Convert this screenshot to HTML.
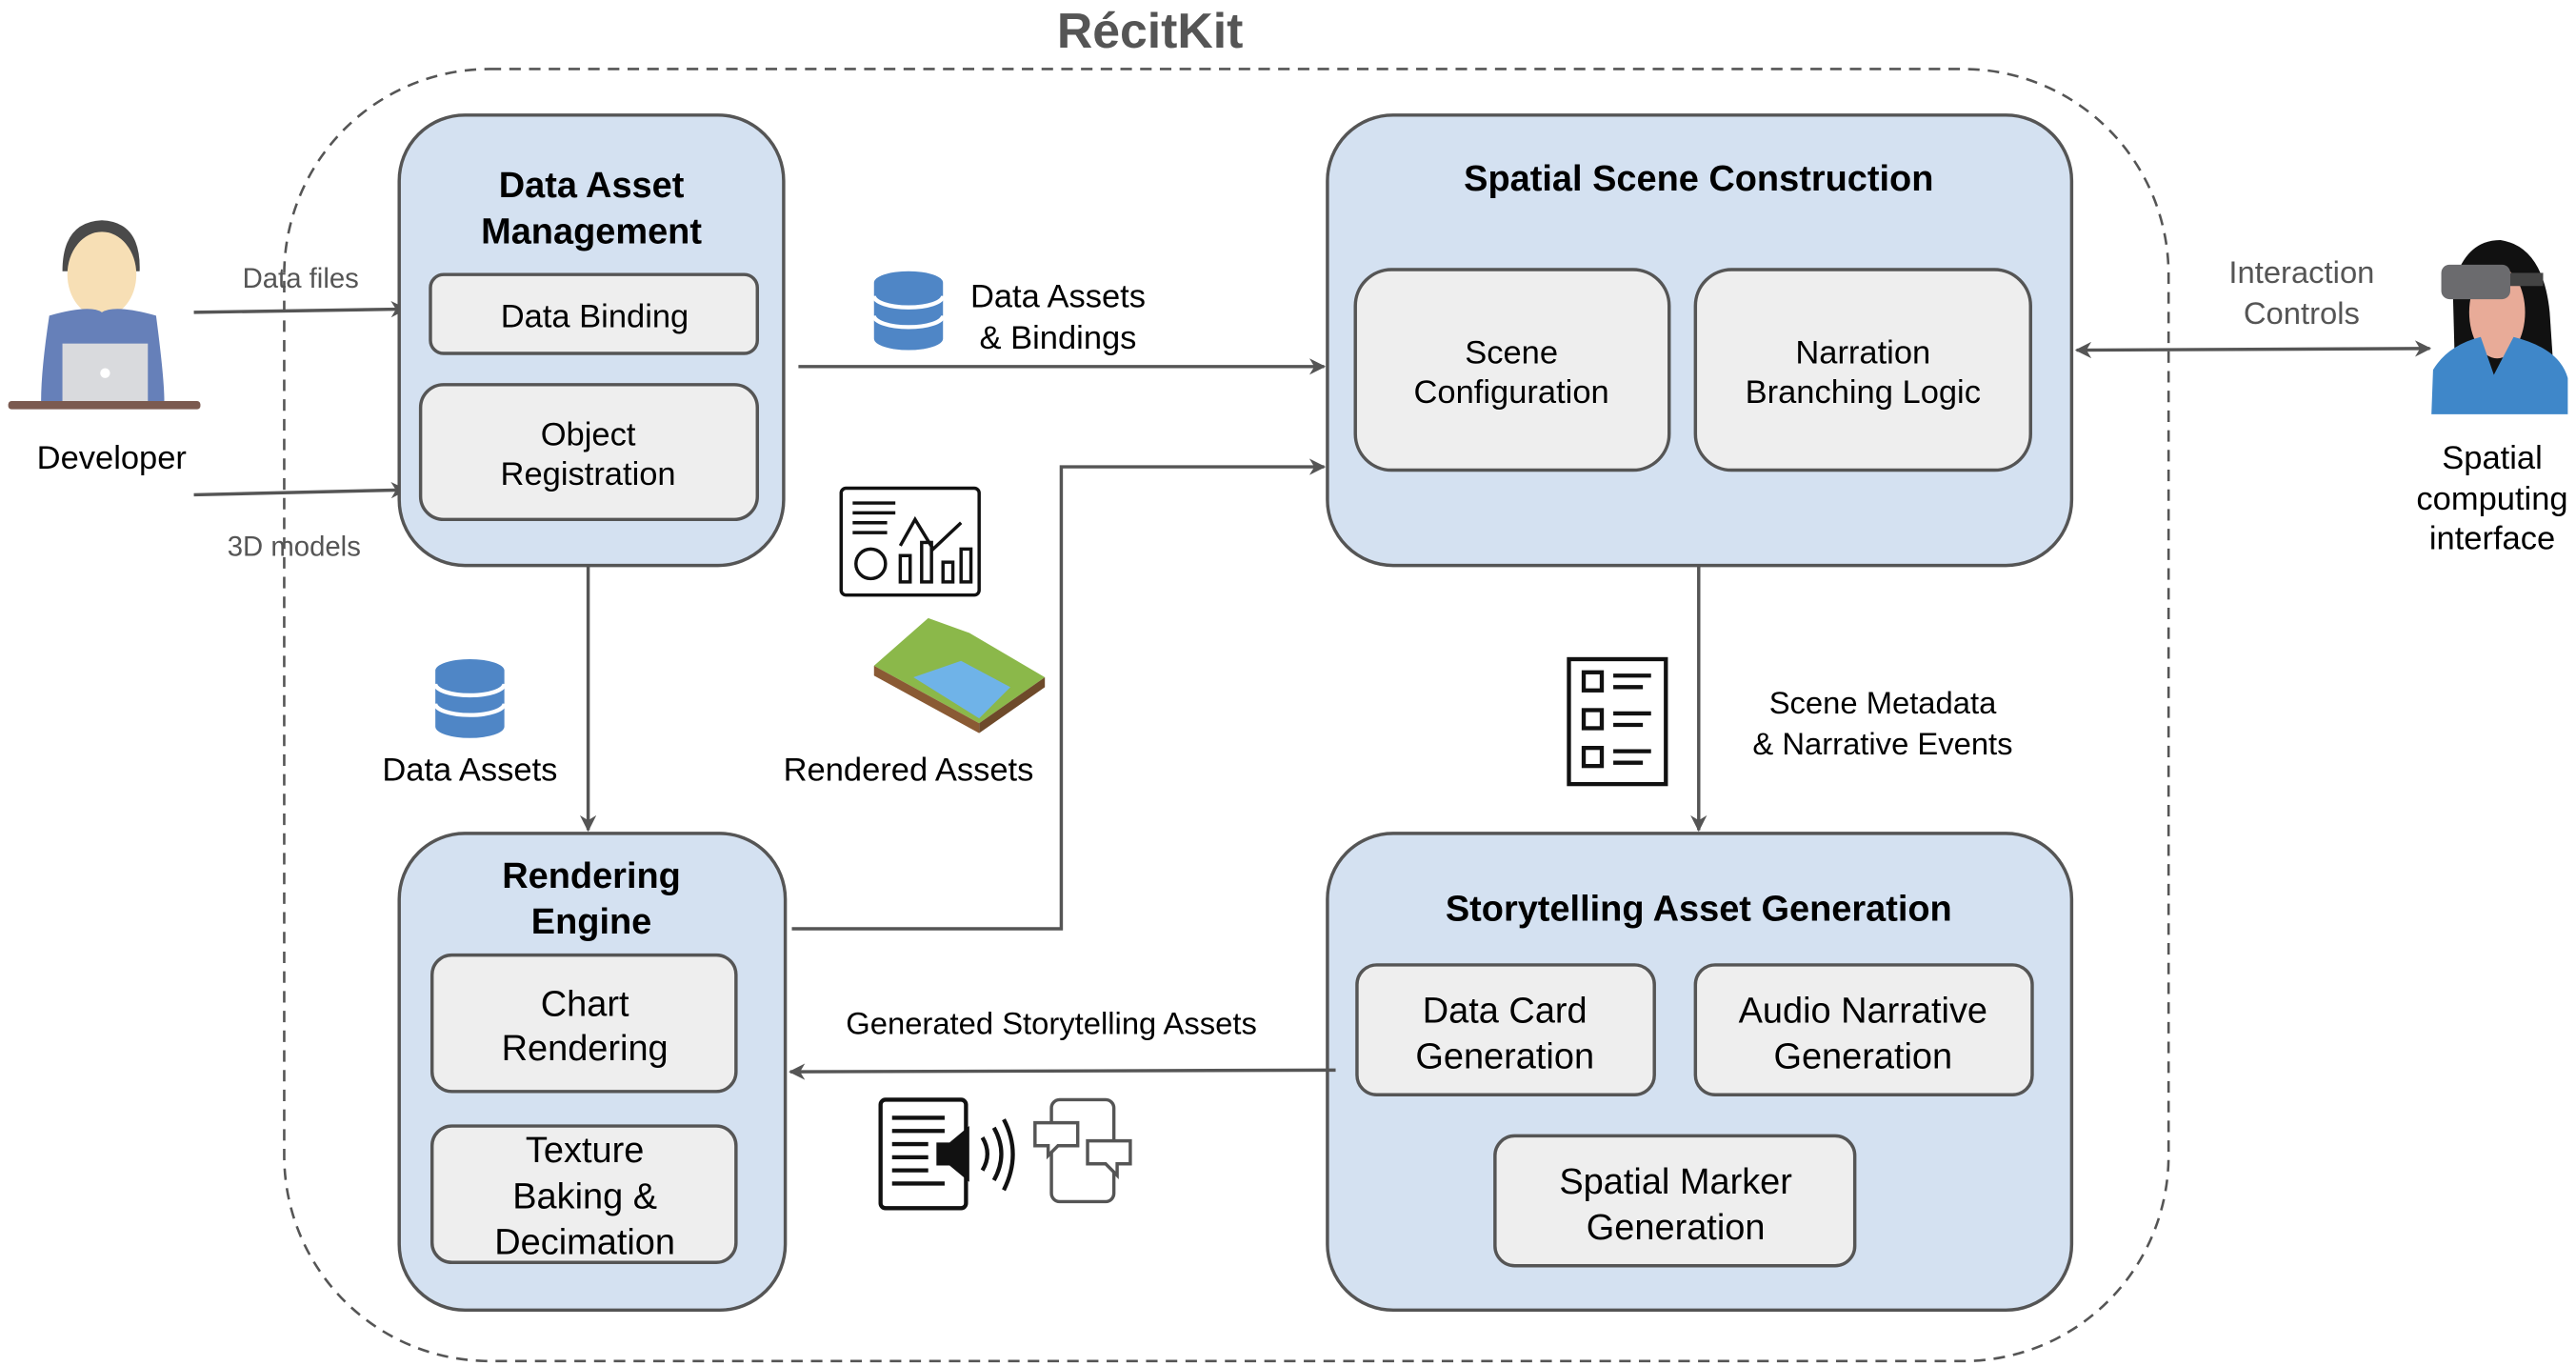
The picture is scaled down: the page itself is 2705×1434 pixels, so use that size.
<!DOCTYPE html>
<html><head><meta charset="utf-8"><style>
html,body{margin:0;padding:0;background:#fff;}
svg{display:block;}
text{font-family:"Liberation Sans",sans-serif;}
</style></head><body>
<svg width="2705" height="1434" viewBox="0 0 1568 831" preserveAspectRatio="none" xmlns="http://www.w3.org/2000/svg">
<defs>
<marker id="ah" markerWidth="10" markerHeight="10" refX="9" refY="5" orient="auto" markerUnits="userSpaceOnUse"><path d="M0,0 L10,5 L0,10 L3,5 Z" fill="#555"/></marker>
<marker id="ahs" markerWidth="10" markerHeight="10" refX="1" refY="5" orient="auto" markerUnits="userSpaceOnUse"><path d="M10,0 L0,5 L10,10 L7,5 Z" fill="#555"/></marker>
</defs>
<text x="700" y="29" font-size="30" font-weight="bold" fill="#555" text-anchor="middle">RécitKit</text>
<rect x="173" y="42" width="1147" height="786" rx="125" fill="none" stroke="#555" stroke-width="1.5" stroke-dasharray="7,5"/>

<!-- Developer -->
<g>
<path d="M38,165 Q38,135 62,134 Q86,135 85,165 Z" fill="#4a4a4a"/>
<ellipse cx="62" cy="167" rx="21" ry="26" fill="#f7dfb5"/>
<path d="M30,192 Q55,185 62,190 Q70,185 95,192 Q100,230 100,244 L25,244 Q25,225 30,192 Z" fill="#6680b9"/>
<rect x="38" y="209" width="52" height="36" fill="#d9dadd"/>
<circle cx="64" cy="227" r="3" fill="#fff"/>
<rect x="5" y="244" width="117" height="5" rx="2" fill="#7b5a50"/>
</g>
<text x="68" y="285" font-size="20" text-anchor="middle">Developer</text>
<line x1="118" y1="190" x2="247" y2="188" stroke="#555" stroke-width="2" marker-end="url(#ah)"/>
<line x1="118" y1="301" x2="247" y2="298" stroke="#555" stroke-width="2" marker-end="url(#ah)"/>
<text x="183" y="175" font-size="17" fill="#555" text-anchor="middle">Data files</text>
<text x="179" y="338" font-size="17" fill="#555" text-anchor="middle">3D models</text>

<!-- DAM -->
<rect x="243" y="70" width="234" height="274" rx="40" fill="#d4e1f1" stroke="#555" stroke-width="2"/>
<text x="360" y="120" font-size="22" font-weight="bold" text-anchor="middle">Data Asset</text>
<text x="360" y="148" font-size="22" font-weight="bold" text-anchor="middle">Management</text>
<rect x="262" y="167" width="199" height="48" rx="8" fill="#eee" stroke="#555" stroke-width="2"/>
<text x="362" y="199" font-size="20" text-anchor="middle">Data Binding</text>
<rect x="256" y="234" width="205" height="82" rx="14" fill="#eee" stroke="#555" stroke-width="2"/>
<text x="358" y="271" font-size="20" text-anchor="middle">Object</text>
<text x="358" y="295" font-size="20" text-anchor="middle">Registration</text>

<!-- DB icon helper -->
<g fill="#4f86c6">
<path d="M532,172 a21,7 0 0 1 42,0 v34 a21,7 0 0 1 -42,0 Z"/>
</g>
<g stroke="#fff" stroke-width="2.5" fill="none"><path d="M532,180 a21,7 0 0 0 42,0"/><path d="M532,192 a21,7 0 0 0 42,0"/></g>
<line x1="486" y1="223" x2="806" y2="223" stroke="#555" stroke-width="2" marker-end="url(#ah)"/>
<text x="644" y="187" font-size="20" text-anchor="middle">Data Assets</text>
<text x="644" y="212" font-size="20" text-anchor="middle">&amp; Bindings</text>

<!-- SSC -->
<rect x="808" y="70" width="453" height="274" rx="40" fill="#d4e1f1" stroke="#555" stroke-width="2"/>
<text x="1034" y="116" font-size="22" font-weight="bold" text-anchor="middle">Spatial Scene Construction</text>
<rect x="825" y="164" width="191" height="122" rx="22" fill="#eee" stroke="#555" stroke-width="2"/>
<text x="920" y="221" font-size="20" text-anchor="middle">Scene</text>
<text x="920" y="245" font-size="20" text-anchor="middle">Configuration</text>
<rect x="1032" y="164" width="204" height="122" rx="22" fill="#eee" stroke="#555" stroke-width="2"/>
<text x="1134" y="221" font-size="20" text-anchor="middle">Narration</text>
<text x="1134" y="245" font-size="20" text-anchor="middle">Branching Logic</text>

<line x1="1264" y1="213" x2="1479" y2="212" stroke="#555" stroke-width="2" marker-start="url(#ahs)" marker-end="url(#ah)"/>
<text x="1401" y="172" font-size="19" fill="#555" text-anchor="middle">Interaction</text>
<text x="1401" y="197" font-size="19" fill="#555" text-anchor="middle">Controls</text>
<!-- VR person -->
<g>
<path d="M1495,250 L1493,175 Q1500,146 1522,146 Q1548,150 1552,190 L1556,250 Z" fill="#111"/>
<ellipse cx="1520" cy="190" rx="17" ry="28" fill="#e8ab98"/>
<path d="M1480,252 L1481,225 Q1490,210 1510,205 L1518,228 L1530,205 Q1558,212 1563,230 L1563,252 Z" fill="#3f87c9"/>
<rect x="1486" y="161" width="42" height="21" rx="5" fill="#6b6b6e"/>
<rect x="1528" y="166" width="20" height="8" fill="#444"/>
</g>
<text x="1517" y="285" font-size="20" text-anchor="middle">Spatial</text>
<text x="1517" y="310" font-size="20" text-anchor="middle">computing</text>
<text x="1517" y="334" font-size="20" text-anchor="middle">interface</text>

<!-- down arrows -->
<line x1="358" y1="344" x2="358" y2="505" stroke="#555" stroke-width="2" marker-end="url(#ah)"/>
<path d="M265,408 a21,7 0 0 1 42,0 v34 a21,7 0 0 1 -42,0 Z" fill="#4f86c6"/>
<g stroke="#fff" stroke-width="2.5" fill="none"><path d="M265,416 a21,7 0 0 0 42,0"/><path d="M265,428 a21,7 0 0 0 42,0"/></g>
<text x="286" y="475" font-size="20" text-anchor="middle">Data Assets</text>

<polyline points="482,565 646,565 646,284 806,284" fill="none" stroke="#555" stroke-width="2" marker-end="url(#ah)"/>
<!-- chart icon -->
<g fill="none" stroke="#111" stroke-width="2">
<rect x="512" y="297" width="84" height="65" rx="3"/>
<line x1="519" y1="306" x2="545" y2="306"/><line x1="519" y1="312" x2="545" y2="312"/><line x1="519" y1="318" x2="540" y2="318"/><line x1="519" y1="324" x2="540" y2="324"/>
<circle cx="530" cy="343" r="9"/>
<rect x="548" y="338" width="6" height="16"/><rect x="561" y="330" width="6" height="24"/><rect x="574" y="342" width="6" height="12"/><rect x="585" y="334" width="6" height="20"/>
<polyline points="548,332 557,316 568,334 585,318"/>
</g>
<!-- terrain -->
<path d="M532,405 L565,376 L590,385 L636,412 L596,440 Z" fill="#8bb84a"/>
<path d="M556,412 L585,402 L615,418 L596,437 Z" fill="#6fb3e8"/>
<path d="M532,405 L596,440 L596,446 L532,411 Z" fill="#8a5a34"/>
<path d="M596,440 L636,412 L636,418 L596,446 Z" fill="#6e4a2a"/>
<text x="553" y="475" font-size="20" text-anchor="middle">Rendered Assets</text>

<line x1="1034" y1="344" x2="1034" y2="505" stroke="#555" stroke-width="2" marker-end="url(#ah)"/>
<g fill="none" stroke="#111" stroke-width="2.5">
<rect x="955" y="401" width="59" height="76"/>
<rect x="964" y="409" width="11" height="11"/><rect x="964" y="432" width="11" height="11"/><rect x="964" y="455" width="11" height="11"/>
<line x1="982" y1="411" x2="1005" y2="411"/><line x1="982" y1="418" x2="1000" y2="418"/>
<line x1="982" y1="434" x2="1005" y2="434"/><line x1="982" y1="441" x2="1000" y2="441"/>
<line x1="982" y1="457" x2="1005" y2="457"/><line x1="982" y1="464" x2="1000" y2="464"/>
</g>
<text x="1146" y="434" font-size="19" text-anchor="middle">Scene Metadata</text>
<text x="1146" y="459" font-size="19" text-anchor="middle">&amp; Narrative Events</text>

<!-- Rendering Engine -->
<rect x="243" y="507" width="235" height="290" rx="40" fill="#d4e1f1" stroke="#555" stroke-width="2"/>
<text x="360" y="540" font-size="22" font-weight="bold" text-anchor="middle">Rendering</text>
<text x="360" y="568" font-size="22" font-weight="bold" text-anchor="middle">Engine</text>
<rect x="263" y="581" width="185" height="83" rx="12" fill="#eee" stroke="#555" stroke-width="2"/>
<text x="356" y="618" font-size="22" text-anchor="middle">Chart</text>
<text x="356" y="645" font-size="22" text-anchor="middle">Rendering</text>
<rect x="263" y="685" width="185" height="83" rx="12" fill="#eee" stroke="#555" stroke-width="2"/>
<text x="356" y="707" font-size="22" text-anchor="middle">Texture</text>
<text x="356" y="735" font-size="22" text-anchor="middle">Baking &amp;</text>
<text x="356" y="763" font-size="22" text-anchor="middle">Decimation</text>

<!-- SAG -->
<rect x="808" y="507" width="453" height="290" rx="40" fill="#d4e1f1" stroke="#555" stroke-width="2"/>
<text x="1034" y="560" font-size="22" font-weight="bold" text-anchor="middle">Storytelling Asset Generation</text>
<rect x="826" y="587" width="181" height="79" rx="12" fill="#eee" stroke="#555" stroke-width="2"/>
<text x="916" y="622" font-size="22" text-anchor="middle">Data Card</text>
<text x="916" y="650" font-size="22" text-anchor="middle">Generation</text>
<rect x="1032" y="587" width="205" height="79" rx="12" fill="#eee" stroke="#555" stroke-width="2"/>
<text x="1134" y="622" font-size="22" text-anchor="middle">Audio Narrative</text>
<text x="1134" y="650" font-size="22" text-anchor="middle">Generation</text>
<rect x="910" y="691" width="219" height="79" rx="12" fill="#eee" stroke="#555" stroke-width="2"/>
<text x="1020" y="726" font-size="22" text-anchor="middle">Spatial Marker</text>
<text x="1020" y="754" font-size="22" text-anchor="middle">Generation</text>

<line x1="813" y1="651" x2="481" y2="652" stroke="#555" stroke-width="2" marker-end="url(#ah)"/>
<text x="640" y="629" font-size="19" text-anchor="middle">Generated Storytelling Assets</text>
<!-- audio doc -->
<g fill="none" stroke="#111" stroke-width="2.5">
<rect x="536" y="669" width="52" height="66" rx="3"/>
<line x1="543" y1="680" x2="575" y2="680"/><line x1="543" y1="688" x2="575" y2="688"/><line x1="543" y1="696" x2="565" y2="696"/><line x1="543" y1="704" x2="565" y2="704"/><line x1="543" y1="712" x2="565" y2="712"/><line x1="543" y1="720" x2="575" y2="720"/>
<path d="M598,692 Q604,702 598,712"/><path d="M605,686 Q614,702 605,718"/><path d="M611,681 Q622,702 611,724"/>
</g>
<path d="M570,695 L578,695 L590,685 L590,719 L578,709 L570,709 Z" fill="#111"/>
<!-- chat icon -->
<g fill="none" stroke="#555" stroke-width="2">
<rect x="640" y="669" width="38" height="62" rx="5"/>
<path d="M630,683 L656,683 L656,697 L644,697 L638,703 L638,697 L630,697 Z" fill="#fff"/>
<path d="M662,694 L688,694 L688,708 L680,708 L680,715 L673,708 L662,708 Z" fill="#fff"/>
</g>
</svg>
</body></html>
